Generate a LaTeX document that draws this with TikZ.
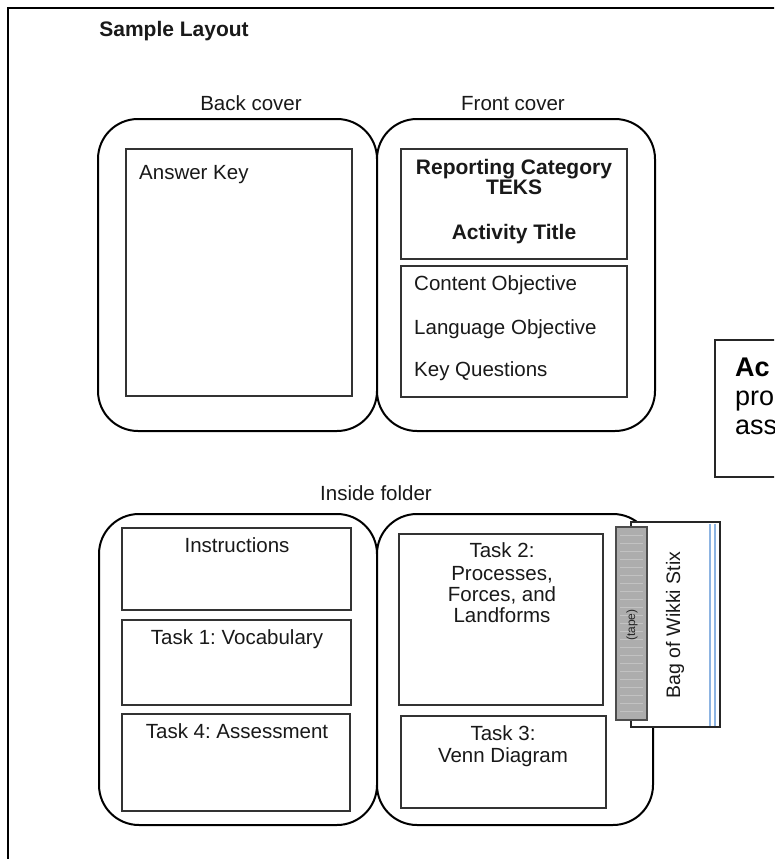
\documentclass[tikz,border=0pt]{standalone}
\usepackage{fontspec}
\setmainfont{Liberation Sans}
\definecolor{stripe}{RGB}{141,180,226}
\begin{document}
\frenchspacing
\begin{tikzpicture}[x=1pt,y=-1pt,
  lbl/.style={font=\fontsize{20.5}{24}\selectfont, inner sep=0pt, anchor=base, text=black!90},
  lblw/.style={lbl, anchor=base west},
  blbl/.style={lbl, font=\fontsize{21}{24}\selectfont\bfseries},
  cover/.style={draw=black, line width=2pt, rounded corners=40pt, fill=white, inner sep=0pt, outer sep=0pt},
  panel/.style={draw=black!80, line width=1.3pt, fill=white, inner sep=0pt, outer sep=0pt},
]
\useasboundingbox (0,0) rectangle (774,859);
\clip (0,0) rectangle (774,859);
\fill[white] (0,0) rectangle (774,859);
% outer frame
\coordinate (fa) at (8,870);
\coordinate (fb) at (8,8);
\coordinate (fc) at (790,8);
\draw[line width=2pt] (fa) -- (fb) -- (fc);

\node[blbl] (title) at (174,37) {Sample Layout};

% ---- covers
\node[lbl] (backlbl) at (251,110) {Back cover};
\node[lbl] (frontlbl) at (513,110) {Front cover};
\node[cover, minimum width=279pt, minimum height=312pt] (back) at (237.5,275) {};
\node[cover, minimum width=278pt, minimum height=312pt] (front) at (516,275) {};
\node[panel, minimum width=226pt, minimum height=247pt] (akbox) at (239,272.5) {};
\node[lblw] (ak) at (139,179) {Answer Key};
\node[panel, minimum width=226pt, minimum height=110pt] (repbox) at (514,204) {};
\node[blbl] (rep1) at (514,174) {Reporting Category};
\node[blbl] (rep2) at (514,194) {TEKS};
\node[blbl] (rep3) at (514,239) {Activity Title};
\node[panel, minimum width=226pt, minimum height=131pt] (objbox) at (514,331.5) {};
\node[lblw] (obj1) at (414,290) {Content Objective};
\node[lblw] (obj2) at (414,334) {Language Objective};
\node[lblw] (obj3) at (414,376) {Key Questions};

% ---- activity box (cut off at right)
\node[draw=black!85, line width=1.2pt, fill=white, minimum width=90pt, minimum height=137pt, inner sep=0pt] (actbox) at (760,408.5) {};
\node[inner sep=0pt, anchor=base west, font=\fontsize{27}{30}\selectfont\bfseries] (act1) at (735,376) {Ac};
\node[inner sep=0pt, anchor=base west, font=\fontsize{27}{30}\selectfont] (act2) at (735,405) {pro};
\node[inner sep=0pt, anchor=base west, font=\fontsize{27}{30}\selectfont] (act3) at (735,434) {ass};

% ---- inside folder
\node[lbl] (insidelbl) at (376,500) {Inside folder};
\node[cover, minimum width=278pt, minimum height=311pt] (inl) at (238,669.5) {};
\node[cover, minimum width=276pt, minimum height=311pt] (inr) at (515,669.5) {};

\node[panel, minimum width=229pt, minimum height=82pt] (instbox) at (236.5,569) {};
\node[lbl] (inst) at (237,552) {Instructions};
\node[panel, minimum width=229pt, minimum height=85pt] (t1box) at (236.5,662.5) {};
\node[lbl] (t1) at (237,644) {Task 1: Vocabulary};
\node[panel, minimum width=228pt, minimum height=97pt] (t4box) at (236,762.5) {};
\node[lbl] (t4) at (237,738) {Task 4: Assessment};

\node[panel, minimum width=204pt, minimum height=171pt] (t2box) at (501,619.5) {};
\node[lbl] (t2a) at (502,557) {Task 2:};
\node[lbl] (t2b) at (502,580) {Processes,};
\node[lbl] (t2c) at (502,601) {Forces, and};
\node[lbl] (t2d) at (502,622) {Landforms};
\node[panel, minimum width=205pt, minimum height=92pt] (t3box) at (503.5,762) {};
\node[lbl] (t3a) at (503,740) {Task 3:};
\node[lbl] (t3b) at (503,762) {Venn Diagram};

% ---- bag of Wikki Stix
\node[draw=black!85, line width=1.3pt, fill=white, minimum width=89pt, minimum height=205pt, inner sep=0pt] (bag) at (675.5,624.5) {};
\coordinate (s1t) at (710,523.5);
\coordinate (s1b) at (710,725.5);
\coordinate (s2t) at (715,523.5);
\coordinate (s2b) at (715,725.5);
\draw[stripe, line width=1.8pt] (s1t) -- (s1b);
\draw[stripe, line width=1.8pt] (s2t) -- (s2b);
\node[inner sep=0pt, rotate=90, font=\fontsize{19.5}{22}\selectfont, text=black!90] (bagtxt) at (675,625) {Bag of Wikki Stix};

\node[draw=black!70, line width=1.2pt, fill=black!32, minimum width=31pt, minimum height=193pt, inner sep=0pt] (tape) at (631.5,623.5) {};
\foreach \yy in {535,543,...,715} {
  \draw[black!24, line width=1pt] (620,\yy) -- (643,\yy);
}
\node[inner sep=0pt, rotate=90, font=\fontsize{12}{14}\selectfont, text=black!85] (tapetxt) at (632,625) {(tape)};
\end{tikzpicture}
\end{document}
